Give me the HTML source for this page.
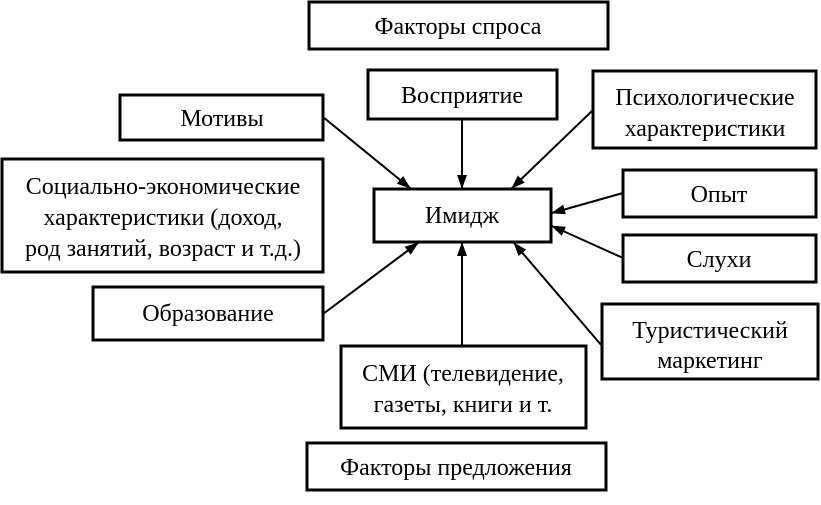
<!DOCTYPE html>
<html><head><meta charset="utf-8"><style>
body{margin:0;background:#fff}
svg text{font-family:"Liberation Serif",serif;font-size:24px;fill:#000;text-anchor:middle}
</style></head><body>
<svg width="821" height="500" viewBox="0 0 821 500" xmlns="http://www.w3.org/2000/svg">
<defs><marker id="a" markerWidth="14" markerHeight="10" refX="13" refY="5" orient="auto" markerUnits="userSpaceOnUse"><path d="M0,0 L14,5 L0,10 Z" fill="#000"/></marker></defs>
<g fill="none" stroke="#000" stroke-width="3">
<rect x="309" y="2" width="299" height="47"/>
<rect x="368" y="70" width="189" height="49"/>
<rect x="593" y="71" width="223" height="77"/>
<rect x="120" y="95" width="203" height="45"/>
<rect x="2" y="159" width="321" height="113"/>
<rect x="374" y="189" width="177" height="53"/>
<rect x="623" y="170" width="193" height="47"/>
<rect x="623" y="235" width="193" height="47"/>
<rect x="93" y="287" width="230" height="53"/>
<rect x="602" y="304" width="216" height="75"/>
<rect x="341" y="346" width="245" height="82"/>
<rect x="307" y="443" width="299" height="47"/>
</g>
<g stroke="#000" stroke-width="2" marker-end="url(#a)">
<line x1="323" y1="117" x2="410" y2="188"/>
<line x1="462" y1="120" x2="462" y2="188"/>
<line x1="593" y1="110" x2="512" y2="188"/>
<line x1="623" y1="193" x2="552" y2="213"/>
<line x1="623" y1="258" x2="552" y2="226"/>
<line x1="602" y1="346" x2="514" y2="243"/>
<line x1="462" y1="346" x2="462" y2="243"/>
<line x1="323" y1="314" x2="418" y2="243"/>
</g>
<text x="458" y="34">Факторы спроса</text>
<text x="462" y="103">Восприятие</text>
<text x="705" y="105">Психологические</text>
<text x="705" y="136">характеристики</text>
<text x="222" y="126">Мотивы</text>
<text x="163" y="194">Социально-экономические</text>
<text x="163" y="225">характеристики (доход,</text>
<text x="163" y="256">род занятий, возраст и т.д.)</text>
<text x="462" y="223">Имидж</text>
<text x="719" y="202">Опыт</text>
<text x="719" y="267">Слухи</text>
<text x="208" y="321">Образование</text>
<text x="710" y="338">Туристический</text>
<text x="710" y="368">маркетинг</text>
<text x="463" y="381">СМИ (телевидение,</text>
<text x="463" y="412">газеты, книги и т.</text>
<text x="456" y="475">Факторы предложения</text>
</svg>
</body></html>
